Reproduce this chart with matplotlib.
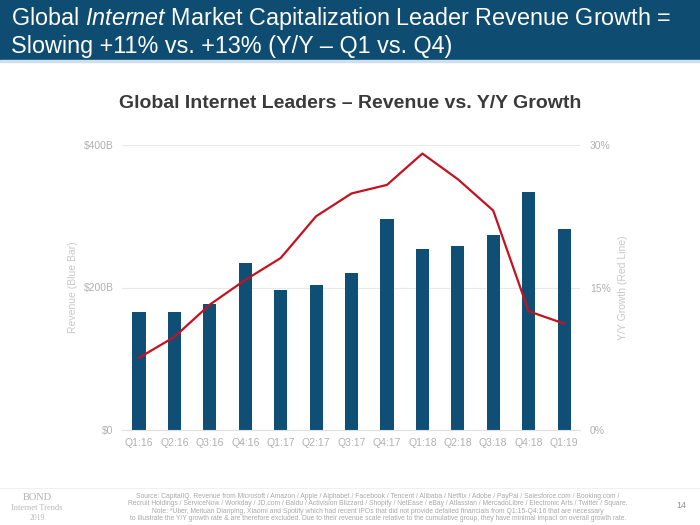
import numpy as np
import matplotlib.pyplot as plt
from matplotlib import font_manager
from matplotlib.patches import Rectangle

# Data
quarters = ['Q1:16', 'Q2:16', 'Q3:16', 'Q4:16', 'Q1:17', 'Q2:17', 'Q3:17',
            'Q4:17', 'Q1:18', 'Q2:18', 'Q3:18', 'Q4:18', 'Q1:19']
revenue_b = [166, 166, 177, 235, 196, 203, 221, 296, 254, 258, 273, 334, 282]
growth_pct = [7.6, 9.8, 13.2, 15.8, 18.1, 22.5, 24.9, 25.8, 29.1, 26.4, 23.1, 12.5, 11.2]
left_ticks = [0, 200, 400]
left_labels = ['$0', '$200B', '$400B']
right_ticks = [0, 15, 30]
right_labels = ['0%', '15%', '30%']

source_lines = [
    "Source: CapitalIQ. Revenue from Microsoft / Amazon / Apple / Alphabet / Facebook / Tencent / Alibaba / Netflix / Adobe / PayPal / Salesforce.com / Booking.com /",
    "Recruit Holdings / ServiceNow / Workday / JD.com / Baidu / Activision Blizzard / Shopify / NetEase / eBay / Atlassian / MercadoLibre / Electronic Arts / Twitter / Square.",
    "Note: *Uber, Meituan Dianping, Xiaomi and Spotify which had recent IPOs that did not provide detailed financials from Q1:15-Q4:16 that are necessary",
    "to illustrate the Y/Y growth rate & are therefore excluded. Due to their revenue scale relative to the cumulative group, they have minimal impact on overall growth rate.",
]

BAR = '#0f4f75'
RED = '#c4121f'
GRAY = '#b0b0b0'

names = {f.name for f in font_manager.fontManager.ttflist}
narrow = 'Liberation Sans Narrow' in names
head_font = 'Liberation Sans Narrow' if narrow else 'Liberation Sans'
head_size = 21 if narrow else 16.8

plt.rcParams['font.family'] = 'Liberation Sans'
plt.rcParams['mathtext.fontset'] = 'custom'
plt.rcParams['mathtext.rm'] = head_font
plt.rcParams['mathtext.it'] = head_font + ':italic'

fig = plt.figure(figsize=(7, 5.25), dpi=100)

# header band
fig.patches.append(Rectangle((0, 1 - 60 / 525), 1, 60 / 525, transform=fig.transFigure,
                             color='#0e4c72', zorder=0))
fig.patches.append(Rectangle((0, 1 - 62 / 525), 1, 2 / 525, transform=fig.transFigure,
                             color='#cfe0ec', zorder=0))
fig.text(11 / 700, 1 - 19 / 525, r'Global $\it{Internet}$ Market Capitalization Leader Revenue Growth =',
         color='white', fontsize=head_size, family=head_font, va='center', ha='left')
fig.text(11 / 700, 1 - 47 / 525, 'Slowing +11% vs. +13% (Y/Y \u2013 Q1 vs. Q4)',
         color='white', fontsize=head_size, family=head_font, va='center', ha='left')

fig.text(0.5, 1 - 104 / 525, 'Global Internet Leaders \u2013 Revenue vs. Y/Y Growth',
         fontsize=14, fontweight='bold', color='#3a3a3a', ha='center', va='center')

ax = fig.add_axes([122 / 700, 1 - 430 / 525, 458 / 700, 285 / 525])
x = np.arange(len(quarters))
ax.bar(x, revenue_b, width=0.37, color=BAR, zorder=2)
ax.set_ylim(0, 400)
ax.set_xlim(-0.48, len(quarters) - 0.55)
ax.set_yticks(left_ticks)
ax.set_yticklabels(left_labels)
ax.set_xticks(x)
ax.set_xticklabels(quarters)
ax.grid(axis='y', color='#e8e8e8', linewidth=0.8, zorder=0)
for s in ['top', 'right', 'left']:
    ax.spines[s].set_visible(False)
ax.spines['bottom'].set_color('#e0e0e0')
ax.tick_params(length=0, labelsize=7.5, labelcolor=GRAY, pad=6)
ax.set_ylabel('Revenue (Blue Bar)', color='#c8c8c8', fontsize=7.5, labelpad=4)

ax2 = ax.twinx()
ax2.plot(x, growth_pct, color=RED, linewidth=1.6, zorder=3)
ax2.set_ylim(0, 30)
ax2.set_yticks(right_ticks)
ax2.set_yticklabels(right_labels)
for s in ax2.spines.values():
    s.set_visible(False)
ax2.tick_params(length=0, labelsize=7.5, labelcolor=GRAY, pad=7)
ax2.set_ylabel('Y/Y Growth (Red Line)', color='#c8c8c8', fontsize=7.5, labelpad=5)
ax2.yaxis.label.set_rotation(90)

# footer
fig.add_artist(plt.Line2D([0, 1], [1 - 488 / 525] * 2, color='#f0f0f0', linewidth=0.8))
fig.text(37 / 700, 1 - 498 / 525, 'BOND', family='Liberation Serif', fontsize=7.5,
         color='#b0b0b0', ha='center', va='center')
fig.text(37 / 700, 1 - 508 / 525, 'Internet Trends', family='Liberation Serif', fontsize=6,
         color='#b8b8b8', ha='center', va='center')
fig.text(37 / 700, 1 - 518 / 525, '2019', family='Liberation Serif', fontsize=5.5,
         color='#b8b8b8', ha='center', va='center')
for i, line in enumerate(source_lines):
    fig.text(378 / 700, 1 - (496 + 7.6 * i) / 525, line, fontsize=4.9, color='#a8a8a8',
             ha='center', va='center')
fig.text(681 / 700, 1 - 505 / 525, '14', fontsize=6.5, color='#909090', ha='center', va='center')

fig.savefig('out.png', dpi=100)
